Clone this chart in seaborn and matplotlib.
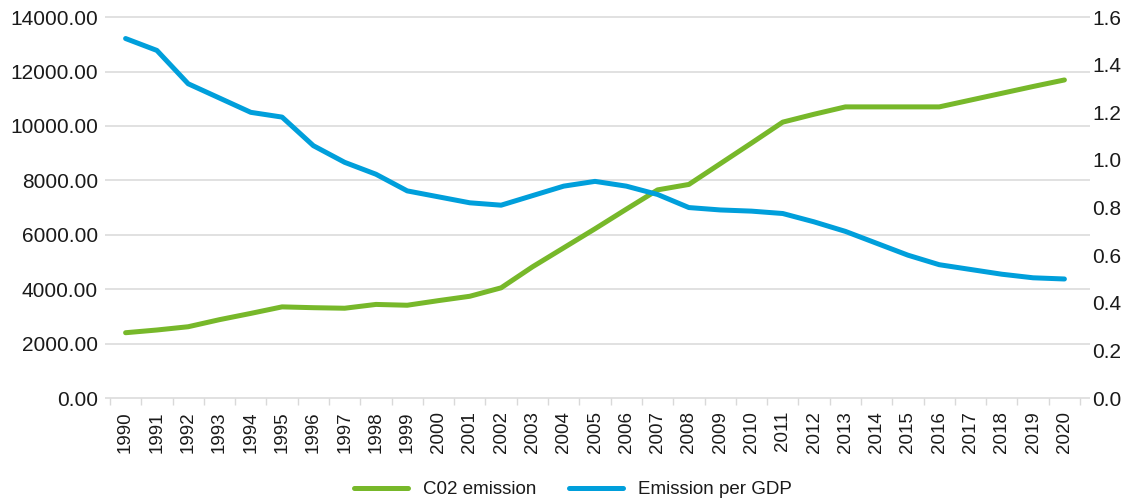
import numpy as np
import pandas as pd
import matplotlib
matplotlib.use('Agg')
import matplotlib.pyplot as plt
import seaborn as sns
from matplotlib.lines import Line2D

# data
years = list(range(1990, 2021))
co2 = [2400, 2500, 2620, 2880, 3110, 3350, 3320, 3300, 3440, 3410,
       3580, 3740, 4050, 4820, 5520, 6220, 6940, 7650, 7850, 8610,
       9370, 10140, 10430, 10700, 10700, 10700, 10700, 10950, 11200, 11450,
       11690]
per_gdp = [1.51, 1.46, 1.32, 1.26, 1.20, 1.18, 1.06, 0.99, 0.94, 0.87,
           0.845, 0.82, 0.81, 0.85, 0.89, 0.91, 0.89, 0.855, 0.80, 0.79,
           0.785, 0.775, 0.74, 0.70, 0.65, 0.60, 0.56, 0.54, 0.52, 0.505,
           0.50]
left_ticks = [0, 2000, 4000, 6000, 8000, 10000, 12000, 14000]
right_ticks = [0.0, 0.2, 0.4, 0.6, 0.8, 1.0, 1.2, 1.4, 1.6]
series_names = ['C02 emission', 'Emission per GDP']

green = '#77B82A'
blue = '#009FDB'
grid_c = '#D9D9D9'
txt_c = '#1a1a1a'

df = pd.DataFrame({'pos': range(len(years)), 'co2': co2, 'gdp': per_gdp})

sns.set_theme(style='white')
plt.rcParams['font.family'] = ['Liberation Sans', 'DejaVu Sans']

fig = plt.figure(figsize=(11.3, 5.03), dpi=100)
ax = fig.add_axes([0.0973, 0.2087, 0.8585, 0.7573])
ax2 = ax.twinx()

sns.lineplot(data=df, x='pos', y='co2', ax=ax, color=green, lw=3.6, legend=False)
sns.lineplot(data=df, x='pos', y='gdp', ax=ax2, color=blue, lw=3.6, legend=False)

ax.set_xlim(-0.5, len(years) - 0.5)
ax.set_ylim(0, 14000)
ax2.set_ylim(0, 1.6)

# gridlines, stretched a bit past the plot area like the original
ax.hlines(left_ticks, -0.0055, 1.0105, transform=ax.get_yaxis_transform(),
          color=grid_c, lw=1.1, clip_on=False, zorder=0.5)

for a in (ax, ax2):
    for s in a.spines.values():
        s.set_visible(False)
    a.set_xlabel('')
    a.set_ylabel('')

ax.set_yticks(left_ticks)
ax.set_yticklabels(['%.2f' % v for v in left_ticks])
ax2.set_yticks(right_ticks)
ax2.set_yticklabels(['%.1f' % v for v in right_ticks])
ax.tick_params(axis='y', length=0, pad=8.6, labelsize=15, labelcolor=txt_c)
ax2.tick_params(axis='y', length=0, pad=8.6, labelsize=15, labelcolor=txt_c)

ax.set_xticks(range(len(years)))
ax.set_xticklabels([str(y) for y in years], rotation=90)
ax.set_xticks(np.arange(-0.5, len(years), 1), minor=True)
ax.tick_params(axis='x', which='major', length=0, pad=9.4, labelsize=13.5, labelcolor=txt_c)
ax.tick_params(axis='x', which='minor', bottom=True, length=5, width=1, color=grid_c)

handles = [Line2D([], [], color=green, lw=3.6), Line2D([], [], color=blue, lw=3.6)]
fig.legend(handles, series_names, loc='center', bbox_to_anchor=(0.507, 0.026), ncol=2,
           frameon=False, prop={'size': 13.5},
           handlelength=2.9, handletextpad=0.8, columnspacing=1.7, labelcolor=txt_c)

fig.savefig('out.png', dpi=100)
